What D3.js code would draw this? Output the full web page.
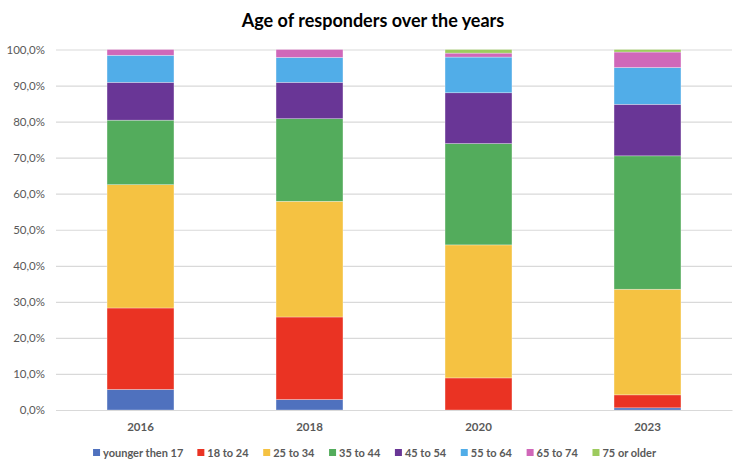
<!DOCTYPE html>
<html>
<head>
  <meta charset="utf-8">
  <title>Age of responders</title>
  <script src="https://cdn.jsdelivr.net/npm/d3@7"></script>
  <style>
    body { margin: 0; background: #fff; }
    text { font-family: Lato, "Open Sans", sans-serif; }
  </style>
</head>
<body>
  <svg width="746" height="473" id="mainsvg"></svg>
  <script>
    const years = ['2016', '2018', '2020', '2023'];
    const groups = ['younger then 17', '18 to 24', '25 to 34', '35 to 44', '45 to 54', '55 to 64', '65 to 74', '75 or older'];
    const colors = ['#4f71be', '#ea3323', '#f5c242', '#53ac5c', '#693696', '#51ade8', '#d067b9', '#9dcb5e'];
    // share (%) of each age group per year, bottom to top
    const younger17 = [5.7, 2.9, 0.0, 0.6];
    const age18to24 = [22.6, 22.9, 8.9, 3.6];
    const age25to34 = [34.2, 32.1, 36.9, 29.3];
    const age35to44 = [17.9, 22.9, 28.1, 37.0];
    const age45to54 = [10.5, 10.1, 14.1, 14.3];
    const age55to64 = [7.5, 6.9, 9.9, 10.2];
    const age65to74 = [1.6, 2.2, 1.1, 4.3];
    const age75plus = [0.0, 0.0, 1.0, 0.7];
    const yTicks = [0, 10, 20, 30, 40, 50, 60, 70, 80, 90, 100];

    const series = [younger17, age18to24, age25to34, age35to44, age45to54, age55to64, age65to74, age75plus];
    const table = years.map((y, i) => {
      const row = { year: y };
      groups.forEach((g, k) => { row[g] = series[k][i]; });
      return row;
    });

    const svg = d3.select('#mainsvg');
    const margin = { top: 49.5, left: 56, right: 14, bottom: 63 };
    const width = +svg.attr('width');
    const height = +svg.attr('height');
    const innerWidth = width - margin.left - margin.right;
    const innerHeight = height - margin.top - margin.bottom;

    const x = d3.scaleBand().domain(years).range([0, innerWidth]).paddingInner(0.604).paddingOuter(0.302);
    const y = d3.scaleLinear().domain([0, 100]).range([innerHeight, 0]);

    const g = svg.append('g').attr('transform', `translate(${margin.left},${margin.top})`);

    // gridlines + y labels
    const yAxis = d3.axisLeft(y).tickValues(yTicks).tickSize(-innerWidth).tickPadding(11)
      .tickFormat(d => d.toFixed(1).replace('.', ',') + '%');
    const yg = g.append('g').call(yAxis);
    yg.select('.domain').remove();
    yg.selectAll('line').attr('stroke', '#d9d9d9').attr('stroke-width', 1.2);
    yg.selectAll('text').attr('fill', '#595959').attr('font-size', 11.5);

    const stack = d3.stack().keys(groups);
    const layers = stack(table);

    g.selectAll('g.layer')
      .data(layers)
      .join('g')
      .attr('class', 'layer')
      .attr('fill', (d, i) => colors[i])
      .selectAll('rect')
      .data(d => d)
      .join('rect')
      .attr('x', d => x(d.data.year))
      .attr('width', x.bandwidth())
      .attr('y', d => y(d[1]))
      .attr('height', d => y(d[0]) - y(d[1]))
      .attr('stroke', '#ffffff')
      .attr('stroke-opacity', 0.5)
      .attr('stroke-width', 0.6);

    // x axis
    const xAxis = d3.axisBottom(x).tickSize(0).tickPadding(13);
    const xg = g.append('g').attr('transform', `translate(0,${innerHeight})`).call(xAxis);
    xg.select('.domain').attr('stroke', '#d9d9d9').attr('stroke-width', 1.2);
    xg.selectAll('text').attr('fill', '#595959').attr('font-size', 11.5).attr('font-weight', 'bold');

    // title
    svg.append('text')
      .attr('x', 373)
      .attr('y', 27)
      .attr('text-anchor', 'middle')
      .attr('font-size', 18)
      .attr('font-weight', 'bold')
      .attr('fill', '#000')
      .text('Age of responders over the years');

    // legend
    const legend = svg.append('g').attr('transform', 'translate(0,457)');
    const items = legend.selectAll('g').data(groups).join('g');
    items.append('rect')
      .attr('y', -8).attr('width', 7).attr('height', 7)
      .attr('fill', (d, i) => colors[i]);
    items.append('text')
      .attr('x', 10).attr('y', 0)
      .attr('font-size', 11).attr('font-weight', 'bold')
      .attr('fill', '#595959')
      .text(d => d);
    const gap = 14;
    const widths = [];
    items.each(function () { widths.push(this.getBBox().width); });
    const total = d3.sum(widths) + gap * (widths.length - 1);
    let cx = (width - total) / 2 + 2;
    items.attr('transform', (d, i) => {
      const t = `translate(${cx},0)`;
      cx += widths[i] + gap;
      return t;
    });
  </script>
</body>
</html>
